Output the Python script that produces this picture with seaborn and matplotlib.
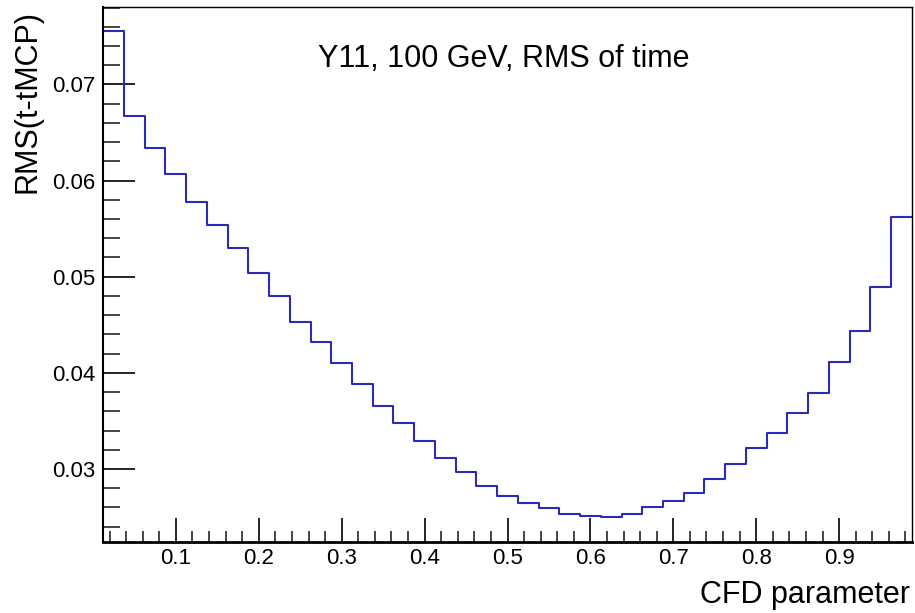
import numpy as np
import pandas as pd
import matplotlib
matplotlib.use("Agg")
import matplotlib.pyplot as plt
import seaborn as sns
from matplotlib.ticker import MultipleLocator

# ---- data ----
bin_edges = [0.0125 + 0.025 * i for i in range(40)]
rms_values = [0.07555, 0.06670, 0.06337, 0.06070, 0.05779, 0.05543, 0.05300, 0.05043,
              0.04804, 0.04530, 0.04318, 0.04100, 0.03885, 0.03656, 0.03479, 0.03287,
              0.03115, 0.02965, 0.02826, 0.02722, 0.02646, 0.02590, 0.02528, 0.02514,
              0.02497, 0.02528, 0.02608, 0.02663, 0.02753, 0.02896, 0.03052, 0.03222,
              0.03375, 0.03583, 0.03791, 0.04110, 0.04440, 0.04894, 0.05616]
title_text = "Y11, 100 GeV, RMS of time"
x_label = "CFD parameter"
y_label = "RMS(t-tMCP)"

centers = [(bin_edges[i] + bin_edges[i + 1]) / 2 for i in range(len(rms_values))]
df = pd.DataFrame({"cfd": centers, "rms": rms_values})

sns.set_style("ticks")
plt.rcParams["font.family"] = ["Liberation Sans", "DejaVu Sans"]

fig = plt.figure(figsize=(9.15, 6.13), dpi=100)
ax = fig.add_axes([0.1129, 0.1163, 0.9964 - 0.1129, 0.989 - 0.1163])

sns.histplot(data=df, x="cfd", weights="rms", bins=bin_edges, element="step",
             fill=False, color="#2b2bb8", linewidth=1.5, ax=ax)

vmax, vmin = max(rms_values), min(rms_values)
dy = vmax - vmin
ax.set_ylim(vmin - 0.05 * dy, vmax + 0.05 * dy)
ax.set_xlim(bin_edges[0], bin_edges[-1])

ax.xaxis.set_major_locator(MultipleLocator(0.1))
ax.xaxis.set_minor_locator(MultipleLocator(0.02))
ax.yaxis.set_major_locator(MultipleLocator(0.01))
ax.yaxis.set_minor_locator(MultipleLocator(0.002))
ax.xaxis.set_major_formatter(plt.FuncFormatter(lambda v, p: f"{v:g}"))
ax.yaxis.set_major_formatter(plt.FuncFormatter(lambda v, p: f"{v:.2f}"))

ax.tick_params(axis="x", which="major", direction="in", length=17, width=1.2,
               labelsize=16, pad=4.5, colors="black")
ax.tick_params(axis="x", which="minor", direction="in", length=8, width=1.2)
ax.tick_params(axis="y", which="major", direction="in", length=23, width=1.2,
               labelsize=16, pad=6, colors="black")
ax.tick_params(axis="y", which="minor", direction="in", length=12, width=1.2)

for side in ["left", "bottom", "top", "right"]:
    ax.spines[side].set_visible(True)
    ax.spines[side].set_color("black")
ax.spines["left"].set_linewidth(1.5)
ax.spines["bottom"].set_linewidth(2)
ax.spines["top"].set_linewidth(1)
ax.spines["right"].set_linewidth(1)

ax.set_xlabel(x_label, fontsize=22, color="black")
ax.xaxis.label.set(ha="right", va="baseline")
ax.xaxis.set_label_coords(0.9979, -0.1151)

ax.set_ylabel(y_label, fontsize=22, color="black")
ax.yaxis.label.set(ha="right", va="bottom", rotation_mode="anchor")
ax.yaxis.set_label_coords(-0.0746, 0.9938)

ax.text(0.495, 0.888, title_text, transform=ax.transAxes, ha="center", va="baseline",
        fontsize=22, color="black")

fig.savefig("out.png", dpi=100)
